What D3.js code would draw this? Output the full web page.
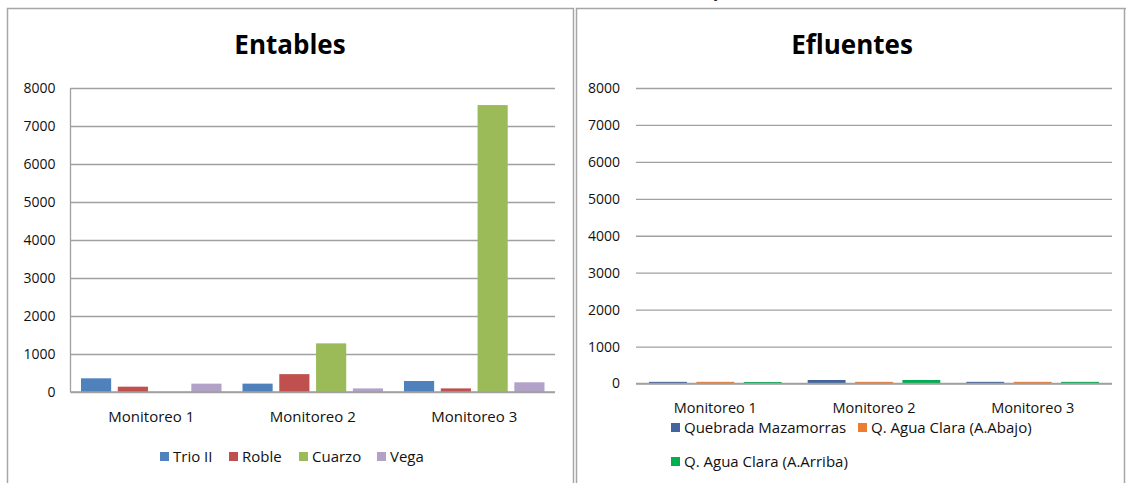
<!DOCTYPE html>
<html><head><meta charset="utf-8">
<script src="https://cdn.jsdelivr.net/npm/d3@7"></script>
<style>
body{margin:0;background:#fff;}
svg{display:block;font-family:"Open Sans",sans-serif;}
</style></head>
<body><svg id="c" width="1126" height="483"></svg>
<script>
const categories = ["Monitoreo 1","Monitoreo 2","Monitoreo 3"];
const yTicks = [0,1000,2000,3000,4000,5000,6000,7000,8000];

const entSeries = ["Trio II","Roble","Cuarzo","Vega"];
const entColors = ["#4F81BD","#C0504D","#9BBB59","#B3A2C7"];
const trioII = [360, 220, 290];
const roble  = [140, 470, 95];
const cuarzo = [0, 1280, 7550];
const vega   = [220, 95, 255];

const eflSeries = ["Quebrada Mazamorras","Q. Agua Clara (A.Abajo)","Q. Agua Clara (A.Arriba)"];
const eflColors = ["#41659C","#ED7D31","#00B050"];
const mazamorras = [45, 95, 45];
const aguaAbajo  = [45, 45, 45];
const aguaArriba = [40, 95, 45];

const svg = d3.select("#c");
const border = "#a6a6a6", grid = "#a0a0a0", txt = "#111";

// panel borders
svg.append("path").attr("d","M7.5,483 V8.5 H573.5 V483").attr("fill","none").attr("stroke",border).attr("stroke-width",1.5);
svg.append("path").attr("d","M576.5,483 V8.5 H1126").attr("fill","none").attr("stroke",border).attr("stroke-width",1.5);
svg.append("line").attr("x1",1124.5).attr("x2",1124.5).attr("y1",8).attr("y2",483).attr("stroke",border).attr("stroke-width",1.5);
// text fragment cut off by the top edge (as in the reference)
svg.append("text").attr("x",714).attr("y",-3).attr("font-size",16).attr("fill","#222").text("y");

function drawChart(cfg){
  const g = svg.append("g");
  const x0 = d3.scaleBand().domain(categories).range([cfg.x0, cfg.x1]);
  const x1 = d3.scaleBand().domain(cfg.series).range([cfg.inPad, x0.bandwidth()-cfg.inPad]).paddingInner(cfg.pin);
  const y = d3.scaleLinear().domain([0,8000]).range([cfg.yb, cfg.yt]);

  // title
  g.append("text").attr("x",cfg.tx).attr("y",cfg.ty).attr("text-anchor","middle")
    .attr("font-size",26).attr("font-weight","bold").attr("fill","#000").text(cfg.title);

  // gridlines & y axis
  const ya = d3.axisLeft(y).tickValues(yTicks).tickSize(cfg.x0 - cfg.x1).tickPadding(cfg.tickPad).tickFormat(d3.format("d"));
  const ag = g.append("g").attr("transform",`translate(${cfg.x0},0)`).call(ya);
  ag.select(".domain").remove();
  ag.selectAll(".tick line").attr("stroke",grid).attr("stroke-width",1.3);
  ag.selectAll(".tick text").attr("font-size",14).attr("fill",txt).attr("font-family","Open Sans");
  if(cfg.vaxis){
    g.append("line").attr("x1",cfg.x0).attr("x2",cfg.x0).attr("y1",y(8000)).attr("y2",y(0)).attr("stroke",grid).attr("stroke-width",1.3);
  }

  // bars
  cfg.data.forEach((vals,si)=>{
    g.selectAll(null).data(vals).enter().append("rect")
      .attr("x",(d,i)=>x0(categories[i])+x1(cfg.series[si]))
      .attr("width",x1.bandwidth())
      .attr("y",d=>y(d))
      .attr("height",d=>y(0)-y(d))
      .attr("fill",cfg.colors[si]);
  });
  // baseline
  g.append("line").attr("x1",cfg.x0).attr("x2",cfg.x1).attr("y1",y(0)).attr("y2",y(0)).attr("stroke",grid).attr("stroke-width",1.3);

  // category labels
  g.selectAll(null).data(categories).enter().append("text")
    .attr("x",d=>x0(d)+x0.bandwidth()/2).attr("y",cfg.catY).attr("text-anchor","middle")
    .attr("font-size",cfg.catFs).attr("fill",txt).text(d=>d);

  // legend
  cfg.legend.forEach((p,i)=>{
    g.append("rect").attr("x",p[0]).attr("y",p[1]-10).attr("width",9).attr("height",9).attr("fill",cfg.colors[i]);
    g.append("text").attr("x",p[0]+13).attr("y",p[1]).attr("font-size",15).attr("fill",txt).text(cfg.series[i]);
  });
}

drawChart({
  title:"Entables", tx:290, ty:54,
  x0:70.5, x1:555, yt:88, yb:392, inPad:10.5, pin:0.18, tickPad:15, vaxis:true,
  series:entSeries, colors:entColors, data:[trioII,roble,cuarzo,vega],
  catY:422, catFs:15, legend:[[160,462],[229,462],[299,462],[377,462]]
});
drawChart({
  title:"Efluentes", tx:852, ty:54,
  x0:636, x1:1112, yt:88, yb:383.5, inPad:13, pin:0.2, tickPad:16, vaxis:false,
  series:eflSeries, colors:eflColors, data:[mazamorras,aguaAbajo,aguaArriba],
  catY:413, catFs:14.5, legend:[[671,433],[858,433],[671,467]]
});
</script></body></html>
